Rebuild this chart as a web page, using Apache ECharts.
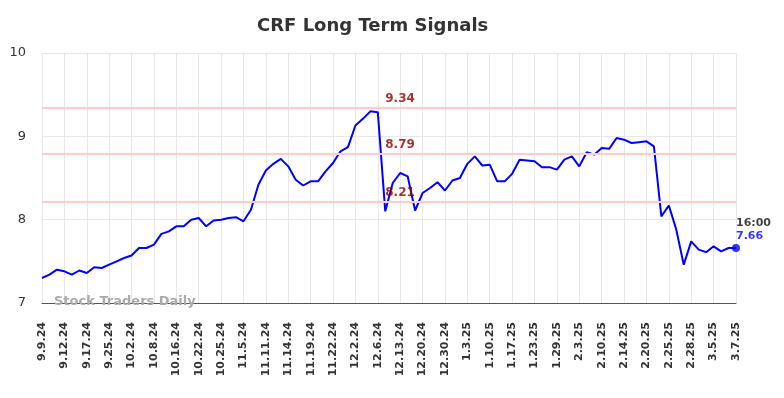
<!DOCTYPE html>
<html>
<head>
<meta charset="utf-8">
<script src="https://cdn.jsdelivr.net/npm/echarts@6/dist/echarts.min.js"></script>
<style>
  html, body { margin: 0; padding: 0; background: #fff; }
  #main { width: 784px; height: 398px; }
</style>
</head>
<body>
<div id="main"></div>
<script>
// 日期 (每三个显示一个标签)
const dates = [
  '9.9.24', '9.10.24', '9.11.24',
  '9.12.24', '9.13.24', '9.16.24',
  '9.17.24', '9.19.24', '9.23.24',
  '9.25.24', '9.27.24', '9.30.24',
  '10.2.24', '10.4.24', '10.7.24',
  '10.8.24', '10.10.24', '10.14.24',
  '10.16.24', '10.18.24', '10.21.24',
  '10.22.24', '10.23.24', '10.24.24',
  '10.25.24', '10.29.24', '11.1.24',
  '11.5.24', '11.7.24', '11.8.24',
  '11.11.24', '11.12.24', '11.13.24',
  '11.14.24', '11.15.24', '11.18.24',
  '11.19.24', '11.20.24', '11.21.24',
  '11.22.24', '11.26.24', '11.29.24',
  '12.2.24', '12.4.24', '12.5.24',
  '12.6.24', '12.10.24', '12.12.24',
  '12.13.24', '12.17.24', '12.19.24',
  '12.20.24', '12.24.24', '12.27.24',
  '12.30.24', '12.31.24', '1.2.25',
  '1.3.25', '1.7.25', '1.8.25',
  '1.10.25', '1.14.25', '1.16.25',
  '1.17.25', '1.21.25', '1.22.25',
  '1.23.25', '1.24.25', '1.28.25',
  '1.29.25', '1.30.25', '1.31.25',
  '2.3.25', '2.5.25', '2.7.25',
  '2.10.25', '2.12.25', '2.13.25',
  '2.14.25', '2.18.25', '2.19.25',
  '2.20.25', '2.21.25', '2.24.25',
  '2.25.25', '2.26.25', '2.27.25',
  '2.28.25', '3.3.25', '3.4.25',
  '3.5.25', '3.6.25', '3.6.25 pm',
  '3.7.25'
];
const prices = [
  7.30, 7.34, 7.40, 7.38, 7.34, 7.39, 7.36, 7.43, 7.42, 7.46,
  7.50, 7.54, 7.57, 7.66, 7.66, 7.70, 7.83, 7.86, 7.92, 7.92,
  8.00, 8.02, 7.92, 7.99, 8.00, 8.02, 8.03, 7.98, 8.12, 8.42,
  8.59, 8.67, 8.73, 8.64, 8.48, 8.41, 8.46, 8.46, 8.58, 8.68,
  8.82, 8.87, 9.13, 9.21, 9.30, 9.29, 8.10, 8.44, 8.56, 8.52,
  8.11, 8.32, 8.38, 8.45, 8.35, 8.47, 8.50, 8.67, 8.76, 8.65,
  8.66, 8.46, 8.46, 8.55, 8.72, 8.71, 8.70, 8.63, 8.63, 8.60,
  8.72, 8.76, 8.64, 8.81, 8.78, 8.86, 8.85, 8.98, 8.96, 8.92,
  8.93, 8.94, 8.88, 8.04, 8.17, 7.88, 7.46, 7.74, 7.64, 7.61,
  7.68, 7.62, 7.66, 7.66
];
const signals = [9.34, 8.79, 8.21];
const signalLabelAt = 46;
const lastTime = '16:00';
const yTicks = [7, 8, 9, 10];

const lastIdx = prices.length - 1;
const chart = echarts.init(document.getElementById('main'));
chart.setOption({
  animation: false,
  textStyle: { fontFamily: 'DejaVu Sans' },
  title: [
    {
      text: 'CRF Long Term Signals',
      left: 252,
      top: 12,
      textStyle: { fontSize: 18, fontWeight: 'bold', color: '#333' }
    },
    {
      text: 'Stock Traders Daily',
      left: 49,
      top: 290,
      textStyle: { fontSize: 13, fontWeight: 'bold', color: '#aaa' }
    }
  ],
  grid: { left: 42, right: 48, top: 53, bottom: 95 },
  xAxis: {
    type: 'category',
    boundaryGap: false,
    data: dates,
    axisLine: { lineStyle: { color: '#555', width: 1 } },
    axisTick: { show: false },
    axisLabel: {
      interval: 2,
      rotate: 90,
      margin: 19,
      fontSize: 11,
      fontWeight: 'bold',
      color: '#333'
    },
    splitLine: { show: true, interval: 2, lineStyle: { color: '#e8e8e8', width: 1 } }
  },
  yAxis: {
    type: 'value',
    min: yTicks[0],
    max: yTicks[yTicks.length - 1],
    interval: 1,
    axisLine: { show: false },
    axisTick: { show: false },
    axisLabel: { fontSize: 13, color: '#333', margin: 16 },
    splitLine: { lineStyle: { color: '#e8e8e8', width: 1 } }
  },
  series: [
    {
      type: 'line',
      data: prices,
      symbol: 'none',
      lineStyle: { color: '#0000ff', width: 2 },
      itemStyle: { color: '#0000ff' },
      markLine: {
        silent: true,
        symbol: 'none',
        label: { show: false },
        lineStyle: { color: '#ffcccc', width: 2, type: 'solid' },
        data: signals.map(v => ({ yAxis: v }))
      },
      z: 3
    },
    {
      type: 'scatter',
      symbolSize: 0,
      silent: true,
      data: signals.map(v => [signalLabelAt, v]),
      label: {
        show: true,
        position: [0, -9],
        align: 'left',
        verticalAlign: 'middle',
        formatter: p => p.value[1].toFixed(2),
        fontSize: 12,
        fontWeight: 'bold',
        color: '#8b0000'
      },
      z: 4
    },
    {
      type: 'scatter',
      symbolSize: 8,
      silent: true,
      itemStyle: { color: '#0000ff' },
      data: [[lastIdx, prices[lastIdx]]],
      label: {
        show: true,
        position: 'top',
        distance: 1,
        align: 'left',
        formatter: p => '{t|' + lastTime + '}\n{v|' + p.value[1].toFixed(2) + '}',
        rich: {
          t: { fontSize: 11, fontWeight: 'bold', color: '#111', lineHeight: 13 },
          v: { fontSize: 11, fontWeight: 'bold', color: '#0000ff', lineHeight: 13 }
        }
      },
      z: 5
    }
  ]
});
</script>
</body>
</html>
